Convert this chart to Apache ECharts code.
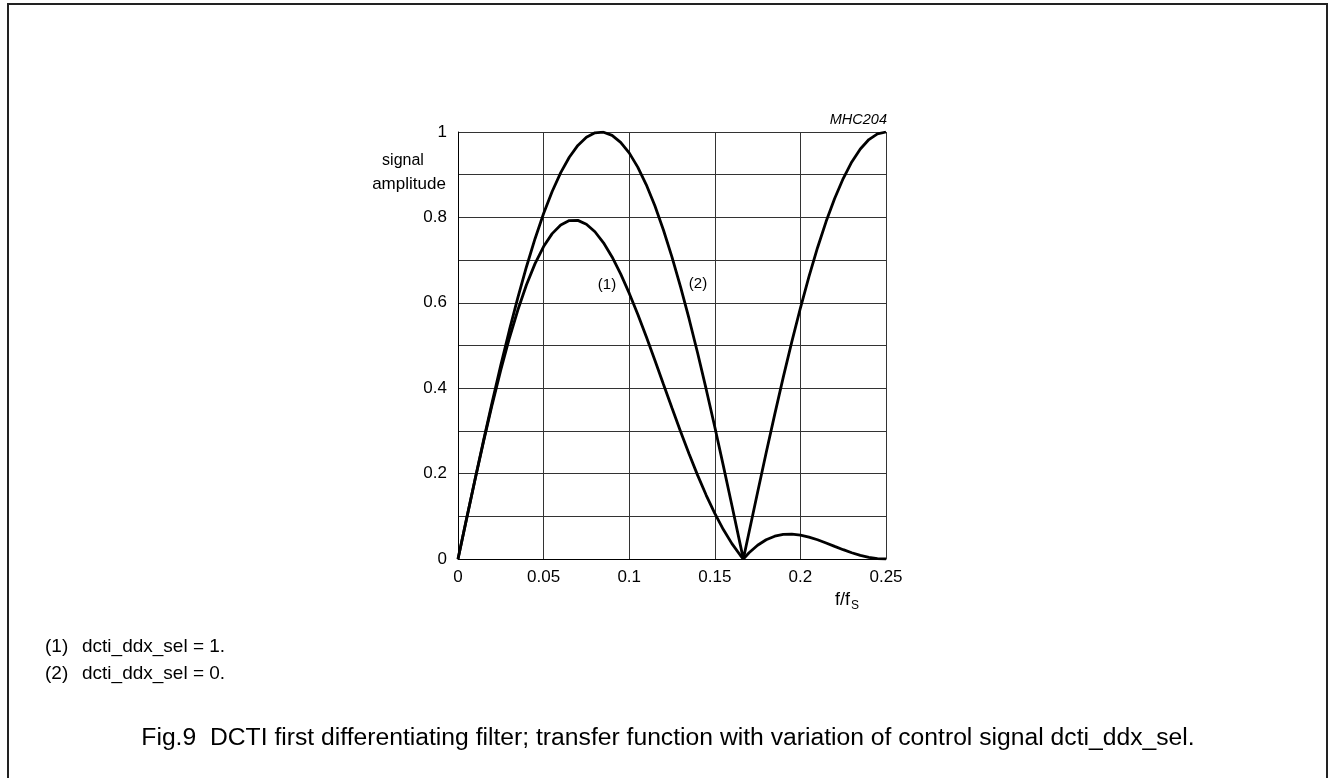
<!DOCTYPE html>
<html>
<head>
<meta charset="utf-8">
<script src="https://cdn.jsdelivr.net/npm/echarts@6/dist/echarts.min.js"></script>
<style>
html,body{margin:0;padding:0;background:#fff;}
#chart{width:1329px;height:778px;}
</style>
</head>
<body>
<div id="chart"></div>
<script>
// frequency f/fs
const freqs = [0,0.005,0.01,0.015,0.02,0.025,0.03,0.035,0.04,0.045,0.05,0.055,0.06,0.065,0.07,0.075,0.08,0.085,0.09,0.095,0.1,0.105,0.11,0.115,0.12,0.125,0.13,0.135,0.14,0.145,0.15,0.155,0.16,0.165,0.16667,0.17,0.175,0.18,0.185,0.19,0.195,0.2,0.205,0.21,0.215,0.22,0.225,0.23,0.235,0.24,0.245,0.25];
// (1) dcti_ddx_sel = 1
const amp1 = [0,0.0940,0.1867,0.2765,0.3623,0.4429,0.5170,0.5837,0.6422,0.6917,0.7317,0.7620,0.7822,0.7925,0.7930,0.7841,0.7664,0.7404,0.7073,0.6676,0.6225,0.5731,0.5203,0.4654,0.4094,0.3536,0.2987,0.2458,0.1958,0.1492,0.1068,0.0689,0.0360,0.0081,0,0.0146,0.0322,0.0451,0.0534,0.0577,0.0584,0.0561,0.0514,0.0451,0.0376,0.0296,0.0218,0.0146,0.0085,0.0038,0.0010,0];
// (2) dcti_ddx_sel = 0
const amp2 = [0,0.0941,0.1874,0.2790,0.3681,0.4540,0.5358,0.6129,0.6845,0.7501,0.8090,0.8607,0.9048,0.9409,0.9686,0.9877,0.9980,0.9995,0.9921,0.9759,0.9511,0.9178,0.8763,0.8271,0.7705,0.7071,0.6374,0.5621,0.4818,0.3971,0.3090,0.2181,0.1253,0.0314,0,0.0628,0.1564,0.2487,0.3387,0.4258,0.5090,0.5878,0.6613,0.7290,0.7902,0.8443,0.8910,0.9298,0.9603,0.9823,0.9956,1.0];
const xTickValues = [0,0.05,0.1,0.15,0.2,0.25];
const xTickLabels = ['0','0.05','0.1','0.15','0.2','0.25'];
const yTickValues = [0,0.2,0.4,0.6,0.8,1];
const yTickLabels = ['0','0.2','0.4','0.6','0.8','1'];

const FONT = '"Liberation Sans", Arial, Helvetica, sans-serif';

function lookup(vals, labels, v){
  for (let i=0;i<vals.length;i++){ if (Math.abs(vals[i]-v)<1e-6) return labels[i]; }
  return '';
}

const chart = echarts.init(document.getElementById('chart'), null, {renderer:'canvas'});
const option = {
  backgroundColor:'#fff',
  animation:false,
  grid:{left:458, top:132, width:428, height:427, containLabel:false},
  xAxis:{
    type:'value', min:0, max:0.25, interval:0.05,
    axisLine:{show:true, lineStyle:{color:'#000', width:1}},
    axisTick:{show:false},
    splitLine:{show:true, lineStyle:{color:'#333', width:1}},
    axisLabel:{color:'#000', fontSize:17, fontFamily:FONT, margin:10,
      formatter:v=>lookup(xTickValues,xTickLabels,v)}
  },
  yAxis:{
    type:'value', min:0, max:1, interval:0.1,
    axisLine:{show:true, lineStyle:{color:'#000', width:1}},
    axisTick:{show:false},
    splitLine:{show:true, lineStyle:{color:'#333', width:1}},
    axisLabel:{color:'#000', fontSize:17, fontFamily:FONT, margin:11,
      formatter:v=>lookup(yTickValues,yTickLabels,v)}
  },
  series:[
    {type:'line', name:'(1)', data:freqs.map((f,i)=>[f,amp1[i]]), showSymbol:false, smooth:false,
     lineStyle:{color:'#000', width:2.8}, z:5},
    {type:'line', name:'(2)', data:freqs.map((f,i)=>[f,amp2[i]]), showSymbol:false, smooth:false,
     lineStyle:{color:'#000', width:2.8}, z:5}
  ],
  graphic:[
    {type:'rect', shape:{x:8, y:4, width:1319, height:820}, style:{fill:'none', stroke:'#222', lineWidth:2}, silent:true},
    {type:'text', x:887, y:120, style:{text:'MHC204', font:'italic 14.5px '+FONT, fill:'#000', textAlign:'right', textVerticalAlign:'middle'}},
    {type:'text', x:403, y:161, style:{text:'signal', font:'16px '+FONT, fill:'#000', textAlign:'center', textVerticalAlign:'middle'}},
    {type:'text', x:409, y:184, style:{text:'amplitude', font:'17px '+FONT, fill:'#000', textAlign:'center', textVerticalAlign:'middle'}},
    {type:'text', x:607, y:285, style:{text:'(1)', font:'15px '+FONT, fill:'#000', textAlign:'center', textVerticalAlign:'middle'}},
    {type:'text', x:698, y:284, style:{text:'(2)', font:'15px '+FONT, fill:'#000', textAlign:'center', textVerticalAlign:'middle'}},
    {type:'text', x:835, y:600, style:{text:'f/f', font:'18px '+FONT, fill:'#000', textAlign:'left', textVerticalAlign:'middle'}},
    {type:'text', x:851, y:606, style:{text:'S', font:'12px '+FONT, fill:'#000', textAlign:'left', textVerticalAlign:'middle'}},
    {type:'text', x:45, y:647, style:{text:'(1)', font:'19px '+FONT, fill:'#000', textAlign:'left', textVerticalAlign:'middle'}},
    {type:'text', x:82, y:647, style:{text:'dcti_ddx_sel = 1.', font:'19px '+FONT, fill:'#000', textAlign:'left', textVerticalAlign:'middle'}},
    {type:'text', x:45, y:674, style:{text:'(2)', font:'19px '+FONT, fill:'#000', textAlign:'left', textVerticalAlign:'middle'}},
    {type:'text', x:82, y:674, style:{text:'dcti_ddx_sel = 0.', font:'19px '+FONT, fill:'#000', textAlign:'left', textVerticalAlign:'middle'}},
    {type:'text', x:668, y:738, style:{text:'Fig.9  DCTI first differentiating filter; transfer function with variation of control signal dcti_ddx_sel.', font:'24.7px '+FONT, fill:'#000', textAlign:'center', textVerticalAlign:'middle'}}
  ]
};
chart.setOption(option);
</script>
</body>
</html>
